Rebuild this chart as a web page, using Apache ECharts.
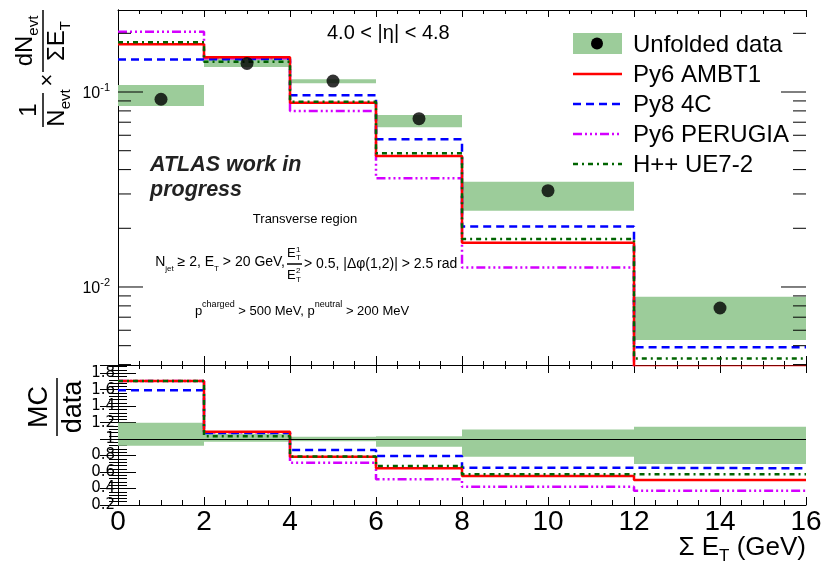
<!DOCTYPE html>
<html>
<head>
<meta charset="utf-8">
<script src="https://cdn.jsdelivr.net/npm/echarts@6/dist/echarts.min.js"></script>
<style>
  html, body { margin: 0; padding: 0; background: #fff; }
  #chart { width: 831px; height: 566px; }
</style>
</head>
<body>
<div id="chart"></div>
<script>
// bins in Sum E_T (GeV)
const binEdges = [0, 2, 4, 6, 8, 12, 16];
const binCenters = [1, 3, 5, 7, 10, 14];

// upper panel: 1/N dN/dSumEt
const dataValues = [0.0918, 0.140, 0.1138, 0.0730, 0.0312, 0.0078];
const dataBandLow = [0.0848, 0.1344, 0.1108, 0.0659, 0.0246, 0.00535];
const dataBandHigh = [0.1086, 0.1512, 0.1162, 0.0762, 0.0347, 0.00892];
const py6Ambt1 = [0.176, 0.1506, 0.0882, 0.0470, 0.01686, 0.0039];
const py8Tune4c = [0.147, 0.148, 0.0962, 0.0572, 0.0204, 0.00491];
const py6Perugia = [0.2037, 0.149, 0.0799, 0.0361, 0.0126, 0.0029];
const herwigUe72 = [0.180, 0.143, 0.0892, 0.0485, 0.0176, 0.0043];

// lower panel: MC / data
const ratioBandLow = [0.919, 0.967, 0.975, 0.907, 0.785, 0.697];
const ratioBandHigh = [1.198, 1.066, 1.03, 1.036, 1.118, 1.149];
const ratioAmbt1 = [1.707, 1.088, 0.785, 0.645, 0.552, 0.503];
const ratio4c = [1.594, 1.074, 0.867, 0.794, 0.652, 0.645];
const ratioPerugia = [1.707, 1.08, 0.713, 0.512, 0.422, 0.373];
const ratioHerwig = [1.707, 1.036, 0.79, 0.673, 0.572, 0.572];

// log axis ticks
const logMajorTicks = [0.01, 0.1];
const logMinorTicks = [0.004, 0.005, 0.006, 0.007, 0.008, 0.009,
  0.02, 0.03, 0.04, 0.05, 0.06, 0.07, 0.08, 0.09, 0.2];

const font = 'Liberation Sans, Arial, sans-serif';
const bandColor = '#9ccc9a';
const colRed = '#ff0000', colBlue = '#0000ff', colMag = '#d400ff', colGreen = '#006400';
const dashBlue = [8, 5];
const dashMag = [9, 3, 2, 3, 2, 3, 2, 3];
const dashGreen = [5, 4, 2, 4];

function histo(values) {
  // step line points on bin edges, last value repeated at the upper edge
  return binEdges.map((e, i) => [e, values[Math.min(i, values.length - 1)]]);
}
function bands(lo, hi) {
  return lo.map((l, i) => [binEdges[i], binEdges[i + 1], l, hi[i]]);
}
function renderBand(params, api) {
  const p0 = api.coord([api.value(0), api.value(3)]);
  const p1 = api.coord([api.value(1), api.value(2)]);
  return {
    type: 'rect',
    shape: { x: p0[0], y: p0[1], width: p1[0] - p0[0], height: p1[1] - p0[1] },
    style: { fill: bandColor }
  };
}
function renderLogTick(params, api) {
  const v = api.value(1);
  const e = Math.log10(v);
  const len = Math.abs(e - Math.round(e)) < 1e-6 ? 25 : 13;
  const l = api.coord([0, v]);
  const r = api.coord([16, v]);
  return {
    type: 'group',
    children: [
      { type: 'line', shape: { x1: l[0], y1: l[1], x2: l[0] + len, y2: l[1] }, style: { stroke: '#000', lineWidth: 1 } },
      { type: 'line', shape: { x1: r[0], y1: r[1], x2: r[0] - len, y2: r[1] }, style: { stroke: '#000', lineWidth: 1 } }
    ]
  };
}
function mcLine(name, values, color, dash, xi, yi, z) {
  return {
    name: name, type: 'line', xAxisIndex: xi, yAxisIndex: yi,
    step: 'end', symbol: 'none', data: histo(values), z: z,
    lineStyle: { color: color, width: 2.5, type: dash }
  };
}

function xAxisCfg(grid, pos, showLabel, tickLen, minorLen) {
  return {
    type: 'value', gridIndex: grid, position: pos, min: 0, max: 16, interval: 2,
    axisLine: { show: true, lineStyle: { color: '#000', width: 1 } },
    axisTick: { show: true, inside: true, length: tickLen, lineStyle: { color: '#000' } },
    minorTick: { show: true, splitNumber: 4, length: minorLen, lineStyle: { color: '#000' } },
    splitLine: { show: false },
    axisLabel: { show: showLabel, color: '#000', fontSize: 28, fontFamily: font, margin: 3 }
  };
}
function logAxisCfg(pos, showLabel) {
  return {
    type: 'log', gridIndex: 0, position: pos, min: 0.00398, max: 0.2634, splitNumber: 2,
    axisLine: { show: true, lineStyle: { color: '#000', width: 1 } },
    axisTick: { show: false },
    splitLine: { show: false },
    axisLabel: {
      show: showLabel, margin: 8, color: '#000', fontFamily: font,
      formatter: function (v) {
        const e = Math.log10(v);
        if (Math.abs(e - Math.round(e)) > 1e-6) return '';
        return '{b|10}{s|' + Math.round(e) + '}';
      },
      rich: {
        b: { fontSize: 16, fontFamily: font, color: '#000', verticalAlign: 'bottom' },
        s: { fontSize: 11, fontFamily: font, color: '#000', verticalAlign: 'bottom', padding: [0, 0, 8, 0] }
      }
    }
  };
}
function ratioAxisCfg(pos, showLabel) {
  return {
    type: 'value', gridIndex: 1, position: pos, min: 0.2, max: 1.9, interval: 0.2,
    axisLine: { show: true, lineStyle: { color: '#000', width: 1 } },
    axisTick: { show: true, inside: true, length: 18, lineStyle: { color: '#000' } },
    minorTick: { show: true, splitNumber: 5, length: 9, lineStyle: { color: '#000' } },
    splitLine: { show: false },
    axisLabel: { show: showLabel, showMinLabel: true, showMaxLabel: false, hideOverlap: false,
      color: '#000', fontSize: 15, fontFamily: 'DejaVu Sans, sans-serif', margin: 3 }
  };
}

const legendItems = [
  { label: 'Py6 AMBT1', color: colRed, dash: null, y: 74 },
  { label: 'Py8 4C', color: colBlue, dash: dashBlue, y: 104 },
  { label: 'Py6 PERUGIA', color: colMag, dash: dashMag, y: 134 },
  { label: 'H++ UE7-2', color: colGreen, dash: dashGreen, y: 164 }
];

const graphics = [];
// legend
graphics.push({ type: 'rect', shape: { x: 573, y: 33, width: 49, height: 21 }, style: { fill: bandColor }, z: 10 });
graphics.push({ type: 'circle', shape: { cx: 597, cy: 43.5, r: 6 }, style: { fill: '#000' }, z: 11 });
graphics.push({ type: 'text', x: 633, y: 45, z: 11, style: { text: 'Unfolded data', fontSize: 24, fontFamily: font, fill: '#000', align: 'left', verticalAlign: 'middle' } });
legendItems.forEach(function (it) {
  graphics.push({ type: 'line', shape: { x1: 573, y1: it.y, x2: 622, y2: it.y }, z: 11,
    style: { stroke: it.color, lineWidth: 2.5, lineDash: it.dash } });
  graphics.push({ type: 'text', x: 633, y: it.y + 1, z: 11,
    style: { text: it.label, fontSize: 24, fontFamily: font, fill: '#000', align: 'left', verticalAlign: 'middle' } });
});

// annotations
graphics.push({ type: 'text', x: 327, y: 33, style: { text: '4.0 < |η| < 4.8', fontSize: 20, fontFamily: font, fill: '#000', align: 'left', verticalAlign: 'middle' } });
graphics.push({ type: 'text', x: 150, y: 165, style: { text: 'ATLAS work in', fontSize: 21.5, fontWeight: 'bold', fontStyle: 'italic', fontFamily: font, fill: '#222', align: 'left', verticalAlign: 'middle' } });
graphics.push({ type: 'text', x: 150, y: 190, style: { text: 'progress', fontSize: 21.5, fontWeight: 'bold', fontStyle: 'italic', fontFamily: font, fill: '#222', align: 'left', verticalAlign: 'middle' } });
graphics.push({ type: 'text', x: 305, y: 219, style: { text: 'Transverse region', fontSize: 13, fontFamily: font, fill: '#000', align: 'center', verticalAlign: 'middle' } });

const smallRich = {
  m: { fontSize: 14, fontFamily: font, fill: '#000', verticalAlign: 'bottom', padding: [0, 0, 3, 0] },
  s: { fontSize: 8, fontFamily: font, fill: '#000', verticalAlign: 'bottom' },
  u: { fontSize: 9, fontFamily: font, fill: '#000', verticalAlign: 'bottom', padding: [0, 0, 9, 0] },
  p: { fontSize: 13, fontFamily: font, fill: '#000', verticalAlign: 'bottom' }
};
graphics.push({ type: 'text', x: 285, y: 264, style: { text: '{m|N}{s|jet}{m| ≥ 2, E}{s|T}{m| > 20 GeV,}', rich: smallRich, align: 'right', verticalAlign: 'middle' } });
graphics.push({ type: 'text', x: 304, y: 264, style: { text: '> 0.5, |Δφ(1,2)| > 2.5 rad', fontSize: 14, fontFamily: font, fill: '#000', align: 'left', verticalAlign: 'middle' } });
// E_T^1 / E_T^2 fraction
graphics.push({ type: 'line', shape: { x1: 287, y1: 264, x2: 302, y2: 264 }, style: { stroke: '#000', lineWidth: 1.5 } });
graphics.push({ type: 'text', x: 287, y: 253, style: { text: 'E', fontSize: 13, fontFamily: font, fill: '#000', align: 'left', verticalAlign: 'middle' } });
graphics.push({ type: 'text', x: 296, y: 250, style: { text: '1', fontSize: 8, fontFamily: font, fill: '#000', align: 'left', verticalAlign: 'middle' } });
graphics.push({ type: 'text', x: 296, y: 258, style: { text: 'T', fontSize: 8, fontFamily: font, fill: '#000', align: 'left', verticalAlign: 'middle' } });
graphics.push({ type: 'text', x: 287, y: 275, style: { text: 'E', fontSize: 13, fontFamily: font, fill: '#000', align: 'left', verticalAlign: 'middle' } });
graphics.push({ type: 'text', x: 296, y: 271, style: { text: '2', fontSize: 8, fontFamily: font, fill: '#000', align: 'left', verticalAlign: 'middle' } });
graphics.push({ type: 'text', x: 296, y: 280, style: { text: 'T', fontSize: 8, fontFamily: font, fill: '#000', align: 'left', verticalAlign: 'middle' } });
graphics.push({ type: 'text', x: 302, y: 309, style: { text: '{p|p}{u|charged}{p| > 500 MeV, p}{u|neutral}{p| > 200 MeV}', rich: smallRich, align: 'center', verticalAlign: 'middle' } });

// axis titles
const titleRich = {
  n: { fontSize: 24, fontFamily: font, fill: '#000', verticalAlign: 'bottom', padding: [0, 0, 4, 0] },
  s: { fontSize: 15, fontFamily: font, fill: '#000', verticalAlign: 'bottom' }
};
graphics.push({
  type: 'group', x: 43, y: 127, rotation: Math.PI / 2,
  children: [
    { type: 'line', shape: { x1: 0, y1: 0, x2: 34, y2: 0 }, style: { stroke: '#000', lineWidth: 1.5 } },
    { type: 'text', x: 17, y: -2, style: { text: '1', fontSize: 24, fontFamily: font, fill: '#000', align: 'center', verticalAlign: 'bottom' } },
    { type: 'text', x: 19, y: 2, style: { text: '{n|N}{s|evt}', rich: titleRich, align: 'center', verticalAlign: 'top' } },
    { type: 'text', x: 47, y: 5, style: { text: '×', fontSize: 22, fontFamily: font, fill: '#000', align: 'center', verticalAlign: 'middle' } },
    { type: 'line', shape: { x1: 55, y1: 0, x2: 117, y2: 0 }, style: { stroke: '#000', lineWidth: 1.5 } },
    { type: 'text', x: 86, y: -2, style: { text: '{n|dN}{s|evt}', rich: titleRich, align: 'center', verticalAlign: 'bottom' } },
    { type: 'text', x: 86, y: 2, style: { text: '{n|ΣE}{s|T}', rich: titleRich, align: 'center', verticalAlign: 'top' } }
  ]
});
graphics.push({
  type: 'group', x: 57, y: 436, rotation: Math.PI / 2,
  children: [
    { type: 'line', shape: { x1: 0, y1: 0, x2: 58, y2: 0 }, style: { stroke: '#000', lineWidth: 1.5 } },
    { type: 'text', x: 29, y: -4, style: { text: 'MC', fontSize: 27, fontFamily: font, fill: '#000', align: 'center', verticalAlign: 'bottom' } },
    { type: 'text', x: 29, y: 3, style: { text: 'data', fontSize: 27, fontFamily: font, fill: '#000', align: 'center', verticalAlign: 'top' } }
  ]
});
graphics.push({ type: 'text', x: 806, y: 550, style: {
  text: '{n|Σ E}{s|T}{n| (GeV)}', align: 'right', verticalAlign: 'middle',
  rich: {
    n: { fontSize: 26, fontFamily: font, fill: '#000', verticalAlign: 'bottom', padding: [0, 0, 4, 0] },
    s: { fontSize: 17, fontFamily: font, fill: '#000', verticalAlign: 'bottom' }
  } } });

const chart = echarts.init(document.getElementById('chart'));
chart.setOption({
  animation: false,
  backgroundColor: '#fff',
  textStyle: { fontFamily: font },
  grid: [
    { left: 118, right: 25, top: 10, height: 355 },
    { left: 118, right: 25, top: 365, height: 140 }
  ],
  xAxis: [
    xAxisCfg(0, 'bottom', false, 9, 4),
    xAxisCfg(0, 'top', false, 7, 4),
    xAxisCfg(1, 'bottom', true, 8, 5),
    xAxisCfg(1, 'top', false, 8, 4)
  ],
  yAxis: [
    logAxisCfg('left', true),
    logAxisCfg('right', false),
    ratioAxisCfg('left', true),
    ratioAxisCfg('right', false)
  ],
  graphic: graphics,
  series: [
    // upper panel
    { type: 'custom', xAxisIndex: 0, yAxisIndex: 0, renderItem: renderBand, data: bands(dataBandLow, dataBandHigh), z: 1, silent: true },
    mcLine('Py6 PERUGIA', py6Perugia, colMag, dashMag, 0, 0, 2),
    mcLine('Py8 4C', py8Tune4c, colBlue, dashBlue, 0, 0, 3),
    mcLine('Py6 AMBT1', py6Ambt1, colRed, 'solid', 0, 0, 4),
    mcLine('H++ UE7-2', herwigUe72, colGreen, dashGreen, 0, 0, 5),
    { type: 'scatter', xAxisIndex: 0, yAxisIndex: 0, symbol: 'circle', symbolSize: 13, z: 6,
      itemStyle: { color: '#000' }, data: binCenters.map((x, i) => [x, dataValues[i]]) },
    { type: 'custom', xAxisIndex: 0, yAxisIndex: 0, renderItem: renderLogTick, z: 7, silent: true,
      data: logMajorTicks.concat(logMinorTicks).map(v => [0, v]) },
    // ratio panel
    { type: 'custom', xAxisIndex: 2, yAxisIndex: 2, renderItem: renderBand, data: bands(ratioBandLow, ratioBandHigh), z: 1, silent: true },
    Object.assign(mcLine('Py6 PERUGIA', ratioPerugia, colMag, dashMag, 2, 2, 2), {
      markLine: { silent: true, symbol: 'none', label: { show: false }, lineStyle: { color: '#000', width: 1, type: 'solid' }, data: [{ yAxis: 1 }] }
    }),
    mcLine('Py8 4C', ratio4c, colBlue, dashBlue, 2, 2, 3),
    mcLine('Py6 AMBT1', ratioAmbt1, colRed, 'solid', 2, 2, 4),
    mcLine('H++ UE7-2', ratioHerwig, colGreen, dashGreen, 2, 2, 5)
  ]
});
</script>
</body>
</html>
